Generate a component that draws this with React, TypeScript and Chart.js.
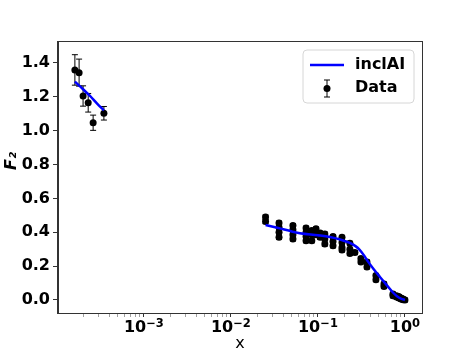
import React, { useEffect, useRef } from "react";
import { Chart, registerables } from "chart.js";
Chart.register(...registerables);

// Low-x data (cluster 1)
const lowX = [1.61e-4, 1.8e-4, 2.0e-4, 2.29e-4, 2.61e-4, 3.47e-4];
const lowY = [1.359, 1.343, 1.205, 1.165, 1.047, 1.103];
const lowErr = [0.09, 0.08, 0.06, 0.055, 0.045, 0.04];

// High-x data (cluster 2)
const highX = [
  0.025, 0.025,
  0.0357, 0.0357, 0.0357, 0.0357,
  0.0516, 0.0516, 0.0516, 0.0516,
  0.073, 0.073, 0.073, 0.073,
  0.085, 0.085, 0.085,
  0.095, 0.095,
  0.106, 0.106,
  0.12, 0.12, 0.12,
  0.149, 0.149, 0.149,
  0.189, 0.189, 0.189, 0.189,
  0.233, 0.233, 0.233,
  0.266,
  0.312, 0.312,
  0.366, 0.366,
  0.464, 0.464,
  0.574, 0.574,
  0.728, 0.728,
  0.8, 0.8,
  0.85, 0.85,
  0.9, 0.9,
  0.95, 0.95,
  1.0,
];
const highY = [
  0.49, 0.463,
  0.455, 0.43, 0.4, 0.37,
  0.44, 0.415, 0.385, 0.36,
  0.425, 0.4, 0.375, 0.35,
  0.41, 0.385, 0.35,
  0.42, 0.385,
  0.395, 0.37,
  0.39, 0.36, 0.33,
  0.375, 0.345, 0.32,
  0.37, 0.34, 0.31, 0.295,
  0.335, 0.3, 0.275,
  0.28,
  0.245, 0.225,
  0.225, 0.195,
  0.145, 0.12,
  0.095, 0.08,
  0.035, 0.025,
  0.025, 0.018,
  0.02, 0.012,
  0.012, 0.006,
  0.006, 0.002,
  0.0,
];
const highErr = highX.map(() => 0.012);

// Fit curve (inclAI)
const fitLowX = [1.61e-4, 2.0e-4, 2.4e-4, 2.9e-4, 3.47e-4];
const fitLowY = [1.29, 1.245, 1.205, 1.16, 1.12];
const fitHighX = [0.025, 0.035, 0.05, 0.062, 0.1, 0.137, 0.18, 0.233, 0.27, 0.3, 0.34, 0.375, 0.44, 0.516, 0.638, 0.72, 0.81, 0.9, 1.0];
const fitHighY = [0.443, 0.425, 0.405, 0.394, 0.382, 0.372, 0.357, 0.337, 0.318, 0.298, 0.262, 0.228, 0.18, 0.136, 0.079, 0.047, 0.022, 0.008, 0.0];

const xTickValues = [
  2e-4, 3e-4, 4e-4, 5e-4, 6e-4, 7e-4, 8e-4, 9e-4,
  1e-3, 2e-3, 3e-3, 4e-3, 5e-3, 6e-3, 7e-3, 8e-3, 9e-3,
  1e-2, 2e-2, 3e-2, 4e-2, 5e-2, 6e-2, 7e-2, 8e-2, 9e-2,
  1e-1, 2e-1, 3e-1, 4e-1, 5e-1, 6e-1, 7e-1, 8e-1, 9e-1,
  1,
];
const yTickValues = [0, 0.2, 0.4, 0.6, 0.8, 1.0, 1.2, 1.4];

const isMajor = (v: number) => Math.abs(Math.log10(v) - Math.round(Math.log10(v))) < 1e-9;
const expText = (v: number) => {
  const e = Math.round(Math.log10(v));
  return e < 0 ? "\u2212" + String(-e) : String(e);
};

const toPts = (xs: number[], ys: number[]) => xs.map((x, i) => ({ x, y: ys[i] }));

const FONT = "'DejaVu Sans', sans-serif";

const errorBarPlugin = {
  id: "errorBars",
  beforeDatasetsDraw(chart: any) {
    const ctx = chart.ctx;
    const xs = chart.scales.x;
    const ys = chart.scales.y;
    ctx.save();
    ctx.strokeStyle = "#000";
    ctx.lineWidth = 1;
    const draw = (X: number[], Y: number[], E: number[]) => {
      X.forEach((x, i) => {
        const px = xs.getPixelForValue(x);
        const top = ys.getPixelForValue(Y[i] + E[i]);
        const bot = ys.getPixelForValue(Y[i] - E[i]);
        ctx.beginPath();
        ctx.moveTo(px, top);
        ctx.lineTo(px, bot);
        ctx.moveTo(px - 3, top);
        ctx.lineTo(px + 3, top);
        ctx.moveTo(px - 3, bot);
        ctx.lineTo(px + 3, bot);
        ctx.stroke();
      });
    };
    draw(lowX, lowY, lowErr);
    draw(highX, highY, highErr);
    ctx.restore();
  },
};

const framePlugin = {
  id: "frameAndLegend",
  afterDraw(chart: any) {
    const ctx = chart.ctx;
    const a = chart.chartArea;
    ctx.save();
    ctx.strokeStyle = "#333";
    ctx.lineWidth = 1;
    ctx.strokeRect(Math.round(a.left) - 0.5, Math.round(a.top) - 0.5, Math.round(a.right - a.left) + 1, Math.round(a.bottom - a.top) + 1);

    // X tick labels: 10 with superscript exponent
    const xs = chart.scales.x;
    ctx.fillStyle = "#000";
    ctx.textBaseline = "alphabetic";
    ctx.textAlign = "left";
    xTickValues.filter(isMajor).forEach((v) => {
      const px = xs.getPixelForValue(v);
      const base = "10";
      const sup = expText(v);
      ctx.font = `bold 16px ${FONT}`;
      const wb = ctx.measureText(base).width;
      ctx.font = `bold 11.5px ${FONT}`;
      const ws = ctx.measureText(sup).width;
      const x0 = px - (wb + ws) / 2;
      ctx.font = `bold 16px ${FONT}`;
      ctx.fillText(base, x0, 332);
      ctx.font = `bold 11.5px ${FONT}`;
      ctx.fillText(sup, x0 + wb, 326.5);
    });

    // Y title
    ctx.save();
    ctx.translate(12, 161);
    ctx.rotate(-Math.PI / 2);
    ctx.fillStyle = "#000";
    ctx.font = `italic bold 16px ${FONT}`;
    ctx.textAlign = "center";
    ctx.textBaseline = "middle";
    ctx.fillText("F₂", 0, 0);
    ctx.restore();

    // Legend
    const lx = 303, ly = 50, lw = 111, lh = 53, r = 4;
    ctx.beginPath();
    ctx.moveTo(lx + r, ly);
    ctx.arcTo(lx + lw, ly, lx + lw, ly + lh, r);
    ctx.arcTo(lx + lw, ly + lh, lx, ly + lh, r);
    ctx.arcTo(lx, ly + lh, lx, ly, r);
    ctx.arcTo(lx, ly, lx + lw, ly, r);
    ctx.closePath();
    ctx.fillStyle = "rgba(255,255,255,0.8)";
    ctx.fill();
    ctx.strokeStyle = "#d6d6d6";
    ctx.lineWidth = 1;
    ctx.stroke();

    ctx.strokeStyle = "#0000ff";
    ctx.lineWidth = 2.5;
    ctx.beginPath();
    ctx.moveTo(310, 65);
    ctx.lineTo(344, 65);
    ctx.stroke();

    ctx.strokeStyle = "#000";
    ctx.lineWidth = 1;
    ctx.beginPath();
    ctx.moveTo(327, 80);
    ctx.lineTo(327, 97);
    ctx.moveTo(324, 80);
    ctx.lineTo(330, 80);
    ctx.moveTo(324, 97);
    ctx.lineTo(330, 97);
    ctx.stroke();
    ctx.fillStyle = "#000";
    ctx.beginPath();
    ctx.arc(327, 88.5, 3.5, 0, Math.PI * 2);
    ctx.fill();

    ctx.font = `bold 16px ${FONT}`;
    ctx.textAlign = "left";
    ctx.textBaseline = "middle";
    ctx.fillText("inclAI", 355, 65);
    ctx.fillText("Data", 355, 88);
    ctx.restore();
  },
};

export default function App() {
  const ref = useRef<HTMLCanvasElement>(null);
  useEffect(() => {
    document.body.style.margin = "0";
    const canvas = ref.current!;
    const chart = new Chart(canvas, {
      type: "scatter",
      data: {
        datasets: [
          {
            label: "inclAI",
            data: toPts(fitLowX, fitLowY),
            showLine: true,
            borderColor: "#0000ff",
            borderWidth: 2.5,
            pointRadius: 0,
            cubicInterpolationMode: "monotone",
          },
          {
            label: "inclAI",
            data: toPts(fitHighX, fitHighY),
            showLine: true,
            borderColor: "#0000ff",
            borderWidth: 2.5,
            pointRadius: 0,
            cubicInterpolationMode: "monotone",
          },
          {
            label: "Data",
            data: [...toPts(lowX, lowY), ...toPts(highX, highY)],
            backgroundColor: "#000",
            borderColor: "#000",
            pointRadius: 3.5,
            borderWidth: 0,
          },
        ],
      },
      options: {
        responsive: false,
        animation: false,
        devicePixelRatio: 1,
        layout: { padding: { top: 42, right: 47, left: 0, bottom: 0 } },
        plugins: { legend: { display: false }, tooltip: { enabled: false } },
        scales: {
          x: {
            type: "logarithmic",
            min: 1.03e-4,
            max: 1.57,
            afterBuildTicks: (axis: any) => {
              axis.ticks = xTickValues.map((v) => ({ value: v, major: isMajor(v) }));
            },
            afterFit: (axis: any) => {
              axis.height = 39;
            },
            grid: {
              drawOnChartArea: false,
              drawTicks: true,
              tickLength: 4,
              tickColor: (c: any) => (c.tick && isMajor(c.tick.value) ? "#333" : "#777"),
              tickWidth: (c: any) => (c.tick && isMajor(c.tick.value) ? 1 : 0.7),
            },
            border: { display: true, color: "#333", width: 1 },
            ticks: {
              autoSkip: false,
              maxRotation: 0,
              padding: 2,
              color: "#000",
              font: { family: FONT, size: 16, weight: "bold" },
              callback: () => "",
            },
            title: {
              display: true,
              text: "x",
              color: "#000",
              font: { family: FONT, size: 16, lineHeight: 1 },
              padding: { top: 0, bottom: 0 },
            },
          },
          y: {
            min: -0.077,
            max: 1.524,
            afterBuildTicks: (axis: any) => {
              axis.ticks = yTickValues.map((v) => ({ value: v }));
            },
            afterFit: (axis: any) => {
              axis.width = 58;
            },
            grid: {
              drawOnChartArea: false,
              drawTicks: true,
              tickLength: 5,
              tickColor: "#333",
            },
            border: { display: true, color: "#333", width: 1 },
            ticks: {
              padding: 3,
              color: "#000",
              font: { family: FONT, size: 16, weight: "bold" },
              callback: (v: any) => Number(v).toFixed(1),
            },
          },
        },
      } as any,
      plugins: [errorBarPlugin, framePlugin],
    });
    return () => chart.destroy();
  }, []);
  return (
    <div style={{ width: 469, height: 352 }}>
      <canvas ref={ref} width={469} height={352} style={{ display: "block" }} />
    </div>
  );
}
